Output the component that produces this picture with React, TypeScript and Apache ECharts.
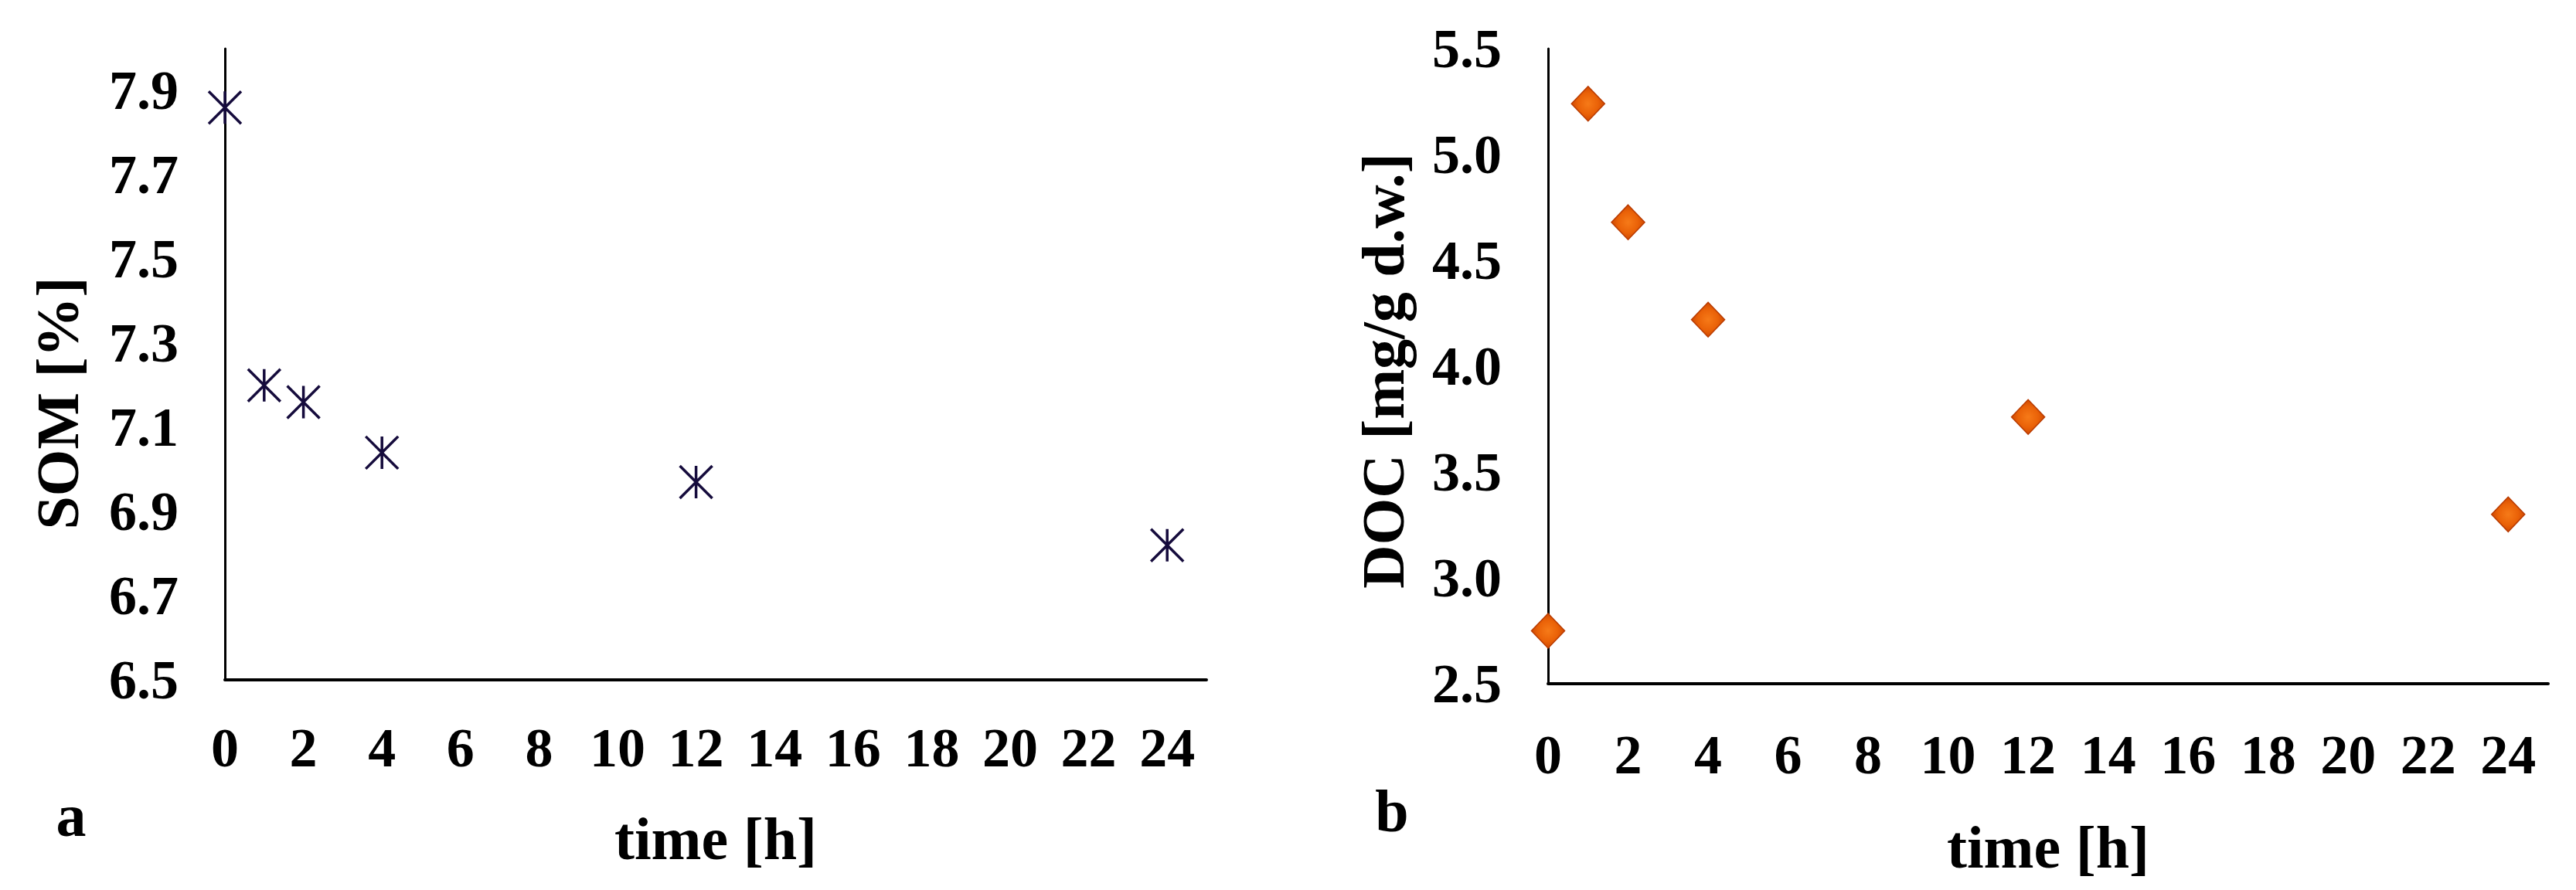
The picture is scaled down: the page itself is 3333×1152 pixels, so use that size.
import React, { useEffect, useRef } from "react";
import * as echarts from "echarts";

const hours = [0, 1, 2, 4, 12, 24];
const somValues = [7.86, 7.2, 7.16, 7.04, 6.97, 6.82];
const docValues = [2.75, 5.24, 4.68, 4.22, 3.76, 3.3];
const xTickLabels = ["0", "2", "4", "6", "8", "10", "12", "14", "16", "18", "20", "22", "24"];
const somTickLabels = ["6.5", "6.7", "6.9", "7.1", "7.3", "7.5", "7.7", "7.9"];
const docTickLabels = ["2.5", "3.0", "3.5", "4.0", "4.5", "5.0", "5.5"];

const FONT = '"Liberation Serif", "Times New Roman", serif';

export default function App() {
  const ref = useRef<HTMLDivElement>(null);

  useEffect(() => {
    document.body.style.margin = "0";
    const chart = echarts.init(ref.current!, null, { renderer: "svg" });

    const tickLabelStyle = (list: string[]) => ({
      show: true,
      fontFamily: FONT,
      fontWeight: "bold",
      fontSize: 72,
      color: "#000",
      formatter: (v: number) => {
        const s = Number.isInteger(v) ? String(v) : v.toFixed(1);
        const s1 = v.toFixed(1);
        if (list.includes(s)) return s;
        if (list.includes(s1)) return s1;
        return "";
      },
    });

    const xAxisBase = (gridIndex: number, labelMargin: number, nameGap: number) => ({
      type: "value",
      gridIndex,
      min: 0,
      max: 25,
      interval: 1,
      axisLine: { show: true, onZero: false, lineStyle: { color: "#000", width: 4 } },
      axisTick: { show: false },
      splitLine: { show: false },
      axisLabel: { ...tickLabelStyle(xTickLabels), margin: labelMargin },
      name: "time [h]",
      nameLocation: "middle",
      nameGap,
      nameTextStyle: { fontFamily: FONT, fontWeight: "bold", fontSize: 78, color: "#000" },
    });

    const option: any = {
      animation: false,
      backgroundColor: "#fff",
      grid: [
        { left: 291, top: 63, width: 1270, height: 817 },
        { left: 2003, top: 63, width: 1294, height: 822 },
      ],
      xAxis: [xAxisBase(0, 52, 166), xAxisBase(1, 56, 172)],
      yAxis: [
        {
          type: "value",
          gridIndex: 0,
          min: 6.5,
          max: 8.0,
          interval: 0.1,
          axisLine: { show: true, onZero: false, lineStyle: { color: "#000", width: 3 } },
          axisTick: { show: false },
          splitLine: { show: false },
          axisLabel: { ...tickLabelStyle(somTickLabels), margin: 60 },
        },
        {
          type: "value",
          gridIndex: 1,
          min: 2.5,
          max: 5.5,
          interval: 0.5,
          axisLine: { show: true, onZero: false, lineStyle: { color: "#000", width: 3 } },
          axisTick: { show: false },
          splitLine: { show: false },
          axisLabel: { ...tickLabelStyle(docTickLabels), margin: 60 },
        },
      ],
      series: [
        {
          type: "scatter",
          xAxisIndex: 0,
          yAxisIndex: 0,
          data: hours.map((h, i) => [h, somValues[i]]),
          symbol: "path://M0,0L10,10M10,0L0,10M5,0L5,10",
          symbolSize: 42,
          silent: true,
          itemStyle: { color: "rgba(0,0,0,0)", borderColor: "#150b3c", borderWidth: 3.5, opacity: 1 },
          emphasis: { disabled: true },
        },
        {
          type: "scatter",
          xAxisIndex: 1,
          yAxisIndex: 1,
          data: hours.map((h, i) => [h, docValues[i]]),
          symbol: "diamond",
          symbolSize: [43, 45],
          silent: true,
          itemStyle: {
            opacity: 1,
            color: {
              type: "radial",
              x: 0.5,
              y: 0.5,
              r: 0.5,
              colorStops: [
                { offset: 0, color: "#f67a18" },
                { offset: 0.6, color: "#ea6208" },
                { offset: 1, color: "#d04a02" },
              ],
            },
            borderColor: "#b83a00",
            borderWidth: 1.5,
          },
          emphasis: { disabled: true },
        },
      ],
      graphic: [
        {
          type: "text",
          x: 74,
          y: 522,
          rotation: Math.PI / 2,
          style: {
            text: "SOM [%]",
            font: `bold 78px ${FONT}`,
            fill: "#000",
            align: "center",
            verticalAlign: "middle",
          },
        },
        {
          type: "text",
          x: 1789,
          y: 480,
          rotation: Math.PI / 2,
          style: {
            text: "DOC [mg/g d.w.]",
            font: `bold 78px ${FONT}`,
            fill: "#000",
            align: "center",
            verticalAlign: "middle",
          },
        },
        {
          type: "text",
          x: 92,
          y: 1055,
          style: {
            text: "a",
            font: `bold 78px ${FONT}`,
            fill: "#000",
            align: "center",
            verticalAlign: "middle",
          },
        },
        {
          type: "text",
          x: 1801,
          y: 1049,
          style: {
            text: "b",
            font: `bold 78px ${FONT}`,
            fill: "#000",
            align: "center",
            verticalAlign: "middle",
          },
        },
      ],
    };

    chart.setOption(option);
    return () => chart.dispose();
  }, []);

  return (
    <div
      ref={ref}
      style={{ position: "absolute", left: 0, top: 0, width: 3333, height: 1152, background: "#fff" }}
    />
  );
}
